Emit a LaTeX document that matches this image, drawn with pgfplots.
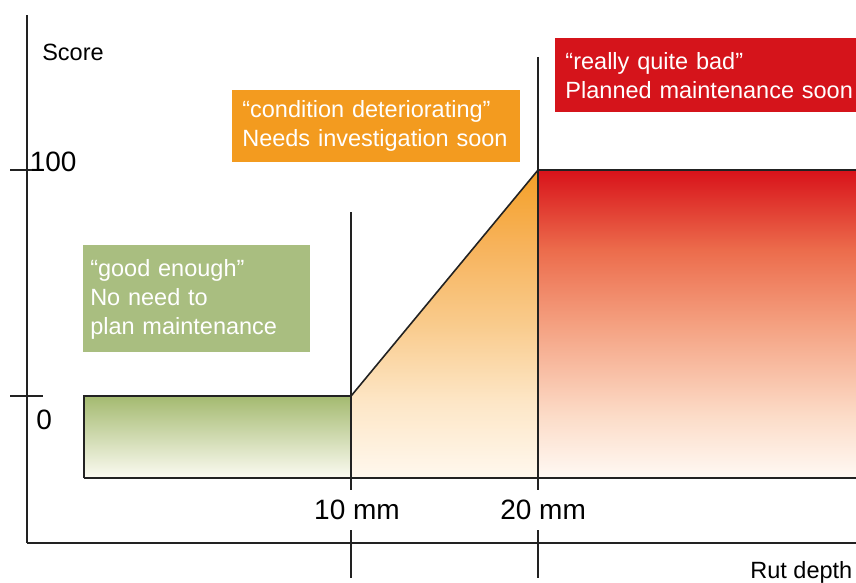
\documentclass[border=0pt]{standalone}
\usepackage{pgfplots}
\pgfplotsset{compat=1.18}
\usepackage{fontspec}
\setmainfont{Liberation Sans}
\definecolor{lineC}{HTML}{222222}
\definecolor{boxGreen}{HTML}{A9BE80}
\definecolor{boxOrange}{HTML}{F39B1F}
\definecolor{boxRed}{HTML}{D5141B}
\definecolor{gTop}{HTML}{A4BA70}
\definecolor{gMid}{HTML}{D0DCAE}
\definecolor{gBot}{HTML}{FCFBF2}
\pgfdeclareverticalshading{redsh}{100bp}{%
  color(0bp)=(rgb,255:red,255;green,249;blue,244);
  color(25bp)=(rgb,255:red,255;green,249;blue,244);
  color(35bp)=(rgb,255:red,252;green,220;blue,200);
  color(50bp)=(rgb,255:red,244;green,160;blue,128);
  color(62bp)=(rgb,255:red,236;green,108;blue,76);
  color(75bp)=(rgb,255:red,216;green,18;blue,26);
  color(100bp)=(rgb,255:red,216;green,18;blue,26)}
\pgfdeclareverticalshading{orangesh}{100bp}{%
  color(0bp)=(rgb,255:red,255;green,248;blue,238);
  color(25bp)=(rgb,255:red,255;green,248;blue,238);
  color(37.5bp)=(rgb,255:red,253;green,230;blue,198);
  color(50bp)=(rgb,255:red,249;green,203;blue,140);
  color(62.5bp)=(rgb,255:red,247;green,179;blue,92);
  color(75bp)=(rgb,255:red,244;green,160;blue,39);
  color(100bp)=(rgb,255:red,244;green,160;blue,39)}
\newcommand{\fsA}{\fontsize{11.75}{14.5}\selectfont}
\newcommand{\fsB}{\fontsize{14}{16}\selectfont}
\begin{document}
\begin{tikzpicture}
\begin{axis}[
  scale only axis, width=414.5pt, height=264pt,
  xmin=-7.33, xmax=37, ymin=-65, ymax=168.6,
  axis x line*=bottom, axis y line*=left,
  axis line style={lineC, line width=0.8pt},
  xtick=\empty, ytick={0,100}, yticklabels={},
  tick align=center, major tick length=16.5pt,
  tick style={lineC, line width=0.8pt},
  clip=false,
]
% shaded areas
\addplot[draw=none, top color=gTop, middle color=gMid, bottom color=gBot] coordinates {(-4.28,-36.3) (-4.28,0) (10,0) (10,-36.3) (-4.28,-36.3)};
\addplot[draw=none, shading=orangesh] coordinates {(10,-36.3) (10,0) (20,100) (20,-36.3) (10,-36.3)};
\addplot[draw=none, shading=redsh] coordinates {(20,-36.3) (20,100) (37,100) (37,-36.3) (20,-36.3)};
% outlines
\addplot[lineC, line width=0.8pt] coordinates {(-4.28,-36.3) (37,-36.3)};
\addplot[lineC, line width=0.8pt] coordinates {(-4.28,-36.3) (-4.28,0) (10,0)};
\addplot[lineC, line width=0.8pt] coordinates {(10,0) (20,100)};
\addplot[lineC, line width=0.8pt] coordinates {(20,100) (37,100)};
\addplot[lineC, line width=0.8pt] coordinates {(10,81.4) (10,-41.6)};
\addplot[lineC, line width=0.8pt] coordinates {(10,-59.3) (10,-80.5)};
\addplot[lineC, line width=0.8pt] coordinates {(20,150) (20,-41.6)};
\addplot[lineC, line width=0.8pt] coordinates {(20,-59.3) (20,-80.5)};
% labels
\node[anchor=west, font=\fsA, inner sep=0pt] at (axis cs:-6.53,151.8) {Score};
\node[anchor=west, font=\fsB, inner sep=0pt] at (axis cs:-7.2,103.5) {100};
\node[anchor=west, font=\fsB, inner sep=0pt] at (axis cs:-6.85,-10.6) {0};
\node[font=\fsB, inner sep=0pt] at (axis cs:10.32,-50.4) {10 mm};
\node[font=\fsB, inner sep=0pt] at (axis cs:20.27,-50.4) {20 mm};
\node[anchor=west, font=\fsA, inner sep=0pt] at (axis cs:31.33,-77.9) {Rut depth};
% boxes
\node[anchor=north west, fill=boxGreen, text=white, text width=106.5pt, minimum height=53.5pt, inner xsep=3.5pt, inner ysep=0pt, align=left, font=\fsA] at (axis cs:-4.34,66.8) {“good enough”\\No need to\\plan maintenance};
\node[anchor=north west, fill=boxOrange, text=white, text width=134pt, minimum height=36pt, inner xsep=5pt, inner ysep=0pt, align=left, font=\fsA] at (axis cs:3.63,135.4) {“condition deteriorating”\\Needs investigation soon};
\node[anchor=north west, fill=boxRed, text=white, text width=150pt, minimum height=37pt, inner xsep=5pt, inner ysep=0pt, align=left, font=\fsA] at (axis cs:20.91,158.4) {“really quite bad”\\Planned maintenance soon};
\coordinate (bl) at (axis cs:-8.77,-82.7);
\coordinate (tr) at (axis cs:37,175.2);
\end{axis}
\pgfresetboundingbox
\path (bl) rectangle (tr);
\end{tikzpicture}
\end{document}
